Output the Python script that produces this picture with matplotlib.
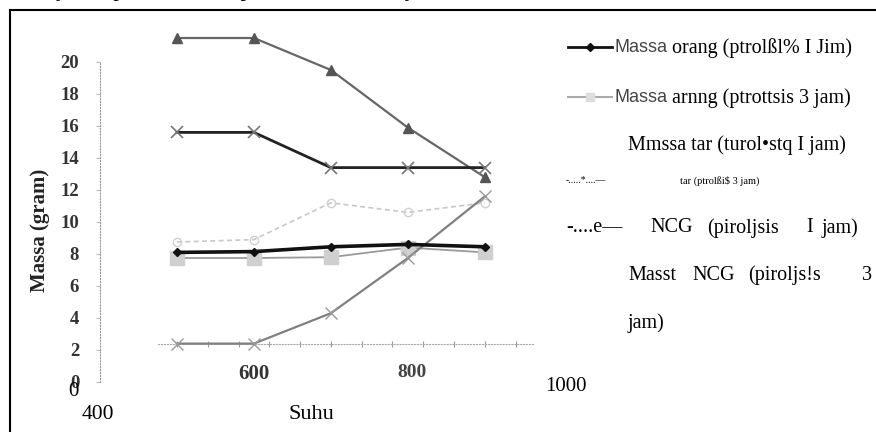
import matplotlib
matplotlib.use('Agg')
import matplotlib.pyplot as plt
from matplotlib.lines import Line2D

plt.rcParams.update({
    'font.family': 'Liberation Serif',
    'figure.facecolor': 'white',
    'axes.facecolor': 'white',
})

# data
suhu = [500, 600, 700, 800, 900]
arang_1jam = [8.1, 8.15, 8.45, 8.6, 8.45]
arang_3jam = [7.75, 7.75, 7.8, 8.4, 8.1]
tar_1jam = [21.5, 21.5, 19.5, 15.9, 12.8]
tar_3jam = [15.6, 15.6, 13.4, 13.4, 13.4]
ncg_1jam = [8.75, 8.9, 11.2, 10.6, 11.2]
ncg_3jam = [2.4, 2.4, 4.3, 7.75, 11.6]

y_ticks = [0, 2, 4, 6, 8, 10, 12, 14, 16, 18, 20]
x_minor = [500, 540, 580, 620, 660, 700, 740, 780, 820, 860, 900, 940]

W, H = 876, 432


def fx(px):
    return px / W


def fy(py):
    return 1 - py / H


fig = plt.figure(figsize=(8.76, 4.32), dpi=100)
ax = fig.add_axes([fx(100), fy(382), fx(531) - fx(100), fy(30) - fy(382)])
ax.set_xlim(400, 960)
ax.set_ylim(0, 22)

# series
ax.plot(suhu, tar_1jam, color='#666666', lw=1.6, marker='^', ms=7,
        mfc='#555555', mec='#555555', zorder=3)
ax.plot(suhu, tar_3jam, color='#222222', lw=2.0, marker='x', ms=9,
        mew=1.2, mec='#777777', zorder=3)
ax.plot(suhu, ncg_1jam, color='#c8c8c8', lw=1.2, ls=(0, (3, 2)), marker='o',
        ms=6, mfc='none', mec='#d0d0d0', zorder=2)
ax.plot(suhu, arang_1jam, color='#111111', lw=2.6, marker='D', ms=4,
        mfc='#111111', mec='#111111', zorder=4)
ax.plot(suhu, arang_3jam, color='#9a9a9a', lw=1.3, marker='s', ms=10,
        mfc='#cfcfcf', mec='#cfcfcf', zorder=3)
ax.plot(suhu, ncg_3jam, color='#808080', lw=1.6, marker='x', ms=8,
        mew=1.0, mec='#9a9a9a', zorder=3)

# axes: dotted left spine and a dotted baseline through the low series
for s in ['top', 'right']:
    ax.spines[s].set_visible(False)
ax.spines['left'].set_bounds(0, 20)
ax.spines['left'].set_linestyle(':')
ax.spines['left'].set_color('#999999')
ax.spines['bottom'].set_position(('data', 2.4))
ax.spines['bottom'].set_bounds(475, 962)
ax.spines['bottom'].set_linestyle(':')
ax.spines['bottom'].set_color('#aaaaaa')

ax.set_yticks(y_ticks)
ax.set_yticklabels([str(v) for v in y_ticks], fontweight='bold', fontsize=13.5,
                   color='#333333')
ax.tick_params(axis='y', length=3, color='#bbbbbb', pad=12)
ax.set_xticks(x_minor)
ax.set_xticklabels([])
ax.tick_params(axis='x', direction='inout', length=4, color='#999999')

ax.set_ylabel('Massa (gram)', fontweight='bold', fontsize=15, color='#222222')
ax.yaxis.set_label_coords(-0.115, 0.43)

# stray axis labels as they sit in the scan
ax.text(600, 0.5, '600', ha='center', va='center', fontsize=15,
        fontweight='bold', color='#333333', clip_on=False)
ax.text(805, 0.6, '800', ha='center', va='center', fontsize=14,
        fontweight='bold', color='#444444', clip_on=False)
ax.text(397, -2.05, '400', ha='center', va='center', fontsize=15.5,
        clip_on=False)
ax.text(1006, -0.3, '1000', ha='center', va='center', fontsize=15,
        clip_on=False)
ax.text(675, -2.05, 'Suhu', ha='center', va='center', fontsize=16,
        clip_on=False)
ax.text(365, -0.6, '0', ha='center', va='center', fontsize=15, clip_on=False)

# frame and cut-off line of body text
fig.add_artist(Line2D([fx(10), fx(10)], [0, fy(10)], color='black', lw=1.5))
fig.add_artist(Line2D([fx(10), 1], [fy(10), fy(10)], color='black', lw=1.5))
fig.text(fx(-4), fy(-8), 'e kaiinyaka apabila tidak dipanaskan lebih lanjut,',
         fontsize=16, va='center', ha='left')

# legend, drawn by hand like the scanned one
fig.add_artist(Line2D([fx(568), fx(590), fx(612)], [fy(47)] * 3,
                      color='#111111', lw=2, marker='D', ms=4, markevery=[1]))
fig.add_artist(Line2D([fx(568), fx(590), fx(612)], [fy(97)] * 3,
                      color='#aaaaaa', lw=1.5, marker='s', ms=6,
                      mfc='#dddddd', mec='#dddddd', markevery=[1]))

leg_size = 14.5
fig.text(fx(615), fy(48), 'Massa', family='Liberation Sans', fontsize=13,
         color='#444444', va='center')
fig.text(fx(672), fy(48), 'orang (ptrolßl% I Jim)', fontsize=leg_size,
         va='center')
fig.text(fx(615), fy(98), 'Massa', family='Liberation Sans', fontsize=13,
         color='#444444', va='center')
fig.text(fx(672), fy(98), 'arnng (ptrottsis 3 jam)', fontsize=leg_size,
         va='center')
fig.text(fx(628), fy(145), 'Mmssa tar (turol•stq I jam)', fontsize=leg_size,
         va='center')
fig.text(fx(566), fy(181), '-.....*....—', fontsize=7, va='center')
fig.text(fx(680), fy(181), 'tar (ptrolßi$ 3 jam)', fontsize=7.5, va='center')

for word, px in [('-....e—', 566), ('NCG', 650), ('(piroljsis', 707),
                 ('I', 806), ('jam)', 822)]:
    fig.text(fx(px), fy(228), word, fontsize=leg_size, va='center')
for word, px in [('Masst', 628), ('NCG', 692), ('(piroljs!s', 748),
                 ('3', 862)]:
    fig.text(fx(px), fy(275), word, fontsize=leg_size, va='center')
fig.text(fx(628), fy(323), 'jam)', fontsize=leg_size, va='center')

fig.savefig('out.png', dpi=100)
